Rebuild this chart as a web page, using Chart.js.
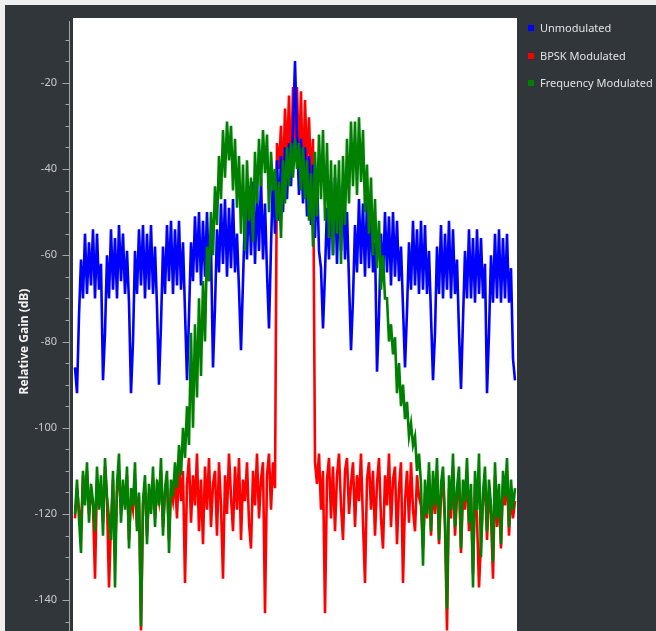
<!DOCTYPE html>
<html>
<head>
<meta charset="utf-8">
<title>Relative Gain</title>
<script src="https://cdn.jsdelivr.net/npm/chart.js@4.4.0/dist/chart.umd.min.js"></script>
<style>
  html, body { margin: 0; padding: 0; width: 656px; height: 631px; overflow: hidden; background: #efefef; }
  #panel { position: absolute; left: 5px; top: 5px; width: 651px; height: 660px; background: #31363b; }
  #chart { position: absolute; left: 0; top: 0; }
  .sw { position: absolute; left: 528px; width: 6px; height: 6px; }
  .lt { position: absolute; left: 540px; font: 11px "Noto Sans", "Open Sans", sans-serif; line-height: 14px; color: #e2e2e2; white-space: nowrap; }
</style>
</head>
<body>
<div id="panel"></div>
<canvas id="chart" width="656" height="665"></canvas>
<div class="sw" style="top:25px;background:#0000ff"></div>
<div class="lt" style="top:21px">Unmodulated</div>
<div class="sw" style="top:52.5px;background:#ff0000"></div>
<div class="lt" style="top:48.5px">BPSK Modulated</div>
<div class="sw" style="top:79.5px;background:#008000"></div>
<div class="lt" style="top:75.5px">Frequency Modulated</div>
<script>
// Relative gain (dB) per frequency bin, bin 0 at the left edge of the span.
const unmodulated = [
  -86,-92,-74,-61,-70,-55,-69,-57,-67,-54,
  -70,-55,-68,-62,-89,-78,-60,-70,-54,-68,
  -56,-70,-53,-66,-55,-69,-59,-71,-92,-80,
  -59,-69,-54,-67,-53,-70,-55,-68,-53,-69,
  -58,-72,-90,-76,-58,-69,-53,-66,-52,-69,
  -54,-67,-52,-68,-57,-73,-89,-74,-57,-66,
  -51,-64,-50,-67,-52,-65,-50,-66,-58,-86,
  -72,-54,-64,-48,-62,-47,-65,-49,-63,-47,
  -64,-55,-68,-82,-66,-50,-61,-44,-60,-43,
  -62,-45,-59,-42,-61,-48,-64,-77,-58,-41,
  -55,-38,-52,-37,-50,-35,-47,-34,-44,-31,
  -15,-32,-46,-33,-48,-35,-51,-37,-53,-39,
  -56,-41,-59,-63,-77,-64,-49,-61,-43,-60,
  -42,-62,-44,-59,-43,-61,-50,-66,-82,-70,
  -53,-64,-47,-62,-48,-65,-47,-63,-49,-64,
  -57,-87,-74,-55,-66,-50,-64,-51,-67,-50,
  -65,-52,-66,-58,-72,-86,-73,-57,-68,-52,
  -67,-54,-69,-52,-68,-53,-69,-59,-74,-89,
  -78,-58,-69,-53,-70,-55,-68,-52,-70,-54,
  -69,-61,-78,-91,-75,-59,-70,-54,-70,-56,
  -71,-54,-69,-56,-70,-62,-92,-78,-60,-71,
  -55,-70,-54,-71,-56,-70,-55,-71,-63,-84,
  -89
];

const bpskModulated = [
  -121,-114,-119,-124,-111,-117,-110,-120,-115,-118,
  -135,-112,-118,-113,-122,-109,-117,-137,-122,-112,
  -130,-115,-110,-120,-114,-118,-111,-126,-116,-119,
  -112,-123,-116,-147,-118,-113,-125,-115,-119,-112,
  -121,-114,-117,-110,-123,-115,-112,-126,-114,-117,
  -112,-121,-108,-117,-110,-136,-113,-107,-122,-111,
  -118,-106,-124,-112,-127,-109,-119,-107,-123,-113,
  -110,-125,-108,-118,-135,-111,-120,-106,-116,-124,
  -109,-119,-107,-126,-112,-117,-108,-122,-128,-110,
  -118,-106,-121,-112,-108,-143,-111,-106,-119,-108,
  -114,-34,-40,-30,-44,-26,-38,-23,-42,-21,
  -36,-21,-40,-22,-45,-24,-39,-28,-43,-33,
  -108,-113,-106,-119,-110,-143,-112,-107,-121,-109,
  -124,-111,-106,-118,-126,-110,-107,-120,-113,-108,
  -123,-111,-117,-106,-122,-136,-112,-108,-119,-110,
  -125,-113,-107,-121,-128,-111,-118,-106,-123,-112,
  -109,-127,-114,-108,-136,-117,-110,-122,-108,-119,
  -124,-111,-116,-118,-128,-115,-121,-111,-125,-113,
  -120,-110,-127,-116,-112,-123,-147,-114,-121,-109,
  -125,-116,-112,-129,-115,-119,-110,-124,-116,-134,
  -113,-121,-137,-126,-117,-112,-126,-115,-120,-135,
  -111,-123,-116,-128,-113,-118,-110,-125,-115,-121,
  -117
];

const frequencyModulated = [
  -120,-112,-121,-129,-110,-118,-108,-122,-113,-117,
  -124,-109,-119,-111,-125,-107,-116,-121,-126,-110,
  -137,-113,-106,-122,-112,-119,-109,-128,-114,-118,
  -108,-124,-115,-146,-117,-111,-127,-113,-120,-109,
  -123,-112,-118,-107,-125,-114,-110,-129,-112,-116,
  -108,-114,-104,-111,-100,-107,-95,-104,-78,-100,
  -76,-93,-70,-88,-66,-80,-58,-66,-50,-60,
  -44,-53,-37,-47,-31,-42,-29,-38,-30,-45,
  -33,-49,-37,-55,-39,-59,-38,-52,-42,-57,
  -36,-48,-33,-44,-31,-41,-32,-50,-36,-45,
  -40,-52,-43,-56,-38,-48,-35,-44,-34,-42,
  -33,-40,-34,-45,-35,-47,-38,-52,-41,-58,
  -36,-51,-32,-47,-31,-52,-34,-56,-38,-60,
  -39,-55,-38,-62,-37,-53,-33,-48,-29,-44,
  -29,-46,-28,-43,-31,-50,-39,-55,-42,-60,
  -47,-63,-52,-68,-60,-70,-70,-80,-76,-83,
  -79,-92,-85,-95,-90,-98,-94,-102,-99,-104,
  -102,-110,-106,-113,-132,-112,-120,-108,-124,-110,
  -118,-107,-126,-113,-109,-121,-142,-111,-119,-106,
  -123,-114,-109,-128,-112,-117,-107,-122,-113,-137,
  -110,-119,-106,-130,-115,-109,-124,-112,-118,-131,
  -108,-121,-113,-127,-110,-116,-107,-123,-112,-119,
  -114
];

// Labelled gain ticks; minor marks every 5 dB.
const gainTicks = [-20, -40, -60, -80, -100, -120, -140];
const minorStep = 5;
const gainMin = -155;
const gainMax = -5;

// Bin offset from the centre bin.
const centreBin = Math.floor(unmodulated.length / 2);
const toPoints = arr => arr.map((v, i) => ({ x: i - centreBin, y: v }));

const axisDecor = {
  id: 'axisDecor',
  beforeDraw(chart) {
    const { ctx, chartArea: a } = chart;
    ctx.save();
    ctx.fillStyle = '#ffffff';
    ctx.fillRect(a.left, a.top, a.right - a.left, a.bottom - a.top);
    ctx.restore();
  },
  afterDraw(chart) {
    const { ctx, chartArea: a } = chart;
    const ys = chart.scales.y;
    const axisX = a.left - 3.5;
    ctx.save();
    ctx.strokeStyle = '#a4a7aa';
    ctx.lineWidth = 1;
    ctx.beginPath();
    ctx.moveTo(axisX, a.top + 3);
    ctx.lineTo(axisX, a.bottom);
    for (let v = -10; v >= gainMin; v -= minorStep) {
      const py = Math.round(ys.getPixelForValue(v)) + 0.5;
      const len = gainTicks.includes(v) ? 7 : 4;
      ctx.moveTo(axisX - len, py);
      ctx.lineTo(axisX, py);
    }
    ctx.stroke();
    ctx.restore();
  }
};

const lineStyle = { pointRadius: 0, borderWidth: 2.6, tension: 0, fill: false };

new Chart(document.getElementById('chart'), {
  type: 'line',
  data: {
    datasets: [
      { label: 'Frequency Modulated', data: toPoints(frequencyModulated), borderColor: '#008000', ...lineStyle },
      { label: 'Unmodulated', data: toPoints(unmodulated), borderColor: '#0000ff', ...lineStyle },
      { label: 'BPSK Modulated', data: toPoints(bpskModulated), borderColor: '#ff0000', ...lineStyle }
    ]
  },
  options: {
    responsive: false,
    animation: false,
    events: [],
    layout: { autoPadding: false, padding: { top: 18, right: 139, bottom: 0, left: 0 } },
    plugins: { legend: { display: false }, tooltip: { enabled: false } },
    scales: {
      x: { type: 'linear', min: -centreBin - 1, max: centreBin + 1, display: false },
      y: {
        type: 'linear',
        min: gainMin,
        max: gainMax,
        afterFit(s) { s.width = 73; s.paddingTop = 0; s.paddingBottom = 0; },
        afterBuildTicks(s) { s.ticks = gainTicks.map(v => ({ value: v })); },
        border: { display: false },
        grid: { display: false, drawTicks: false },
        ticks: {
          padding: 16,
          color: '#c9cbcd',
          font: { family: '"Noto Sans", "Open Sans", sans-serif', size: 11 }
        },
        title: {
          display: true,
          text: 'Relative Gain (dB)',
          color: '#f4f4f4',
          font: { family: '"Noto Sans", "Open Sans", sans-serif', size: 12, weight: 'bold' },
          padding: { top: 17, bottom: 0 }
        }
      }
    }
  },
  plugins: [axisDecor]
});
</script>
</body>
</html>
